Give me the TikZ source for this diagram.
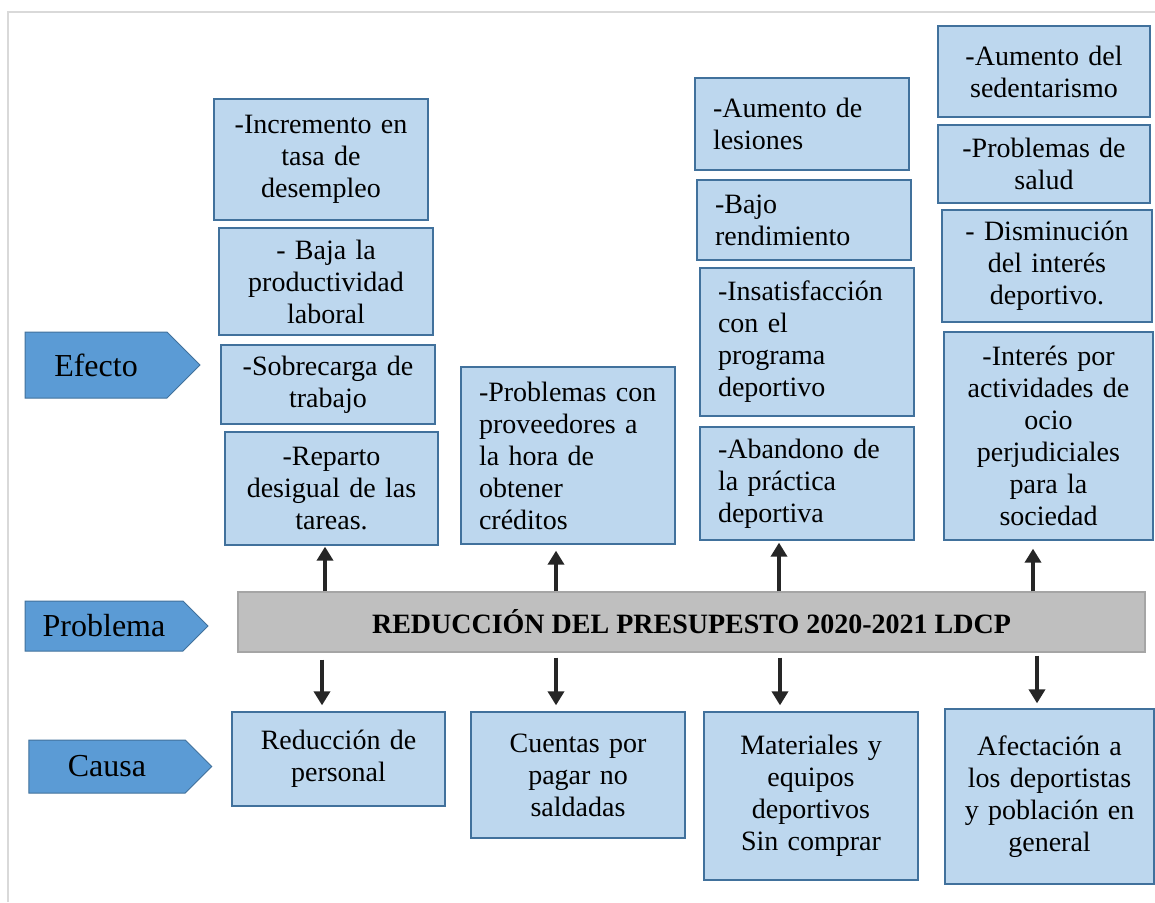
\documentclass[tikz,border=0pt]{standalone}
\usepackage{fontspec}
\setmainfont{Liberation Serif}
\usetikzlibrary{arrows.meta,shapes.symbols}
\definecolor{celeste}{HTML}{BDD7EE}
\definecolor{bordeazul}{HTML}{41719C}
\definecolor{azul}{HTML}{5B9BD5}
\definecolor{gris}{HTML}{BFBFBF}
\definecolor{grisborde}{HTML}{A5A5A5}
\definecolor{marco}{HTML}{D9D9D9}
\definecolor{oscuro}{HTML}{262626}
\tikzset{
  caja/.style={draw=bordeazul, fill=celeste, line width=1.3pt, inner xsep=18pt, inner ysep=0pt,
    text width=178pt, align=center, font=\fontsize{28}{32}\selectfont},
  cajaizq/.style={caja, align=left},
  etiqueta/.style={signal, signal to=east, signal pointer angle=90, draw=bordeazul, fill=azul,
    line width=1pt, inner sep=0pt, font=\fontsize{32}{38}\selectfont},
  flecha/.style={-{Triangle[length=14pt,width=16pt]}, line width=4.5pt, draw=oscuro},
}
\begin{document}
\begin{tikzpicture}[x=1pt, y=-1pt]
\useasboundingbox (0,0) rectangle (1155,902);
\draw[marco, line width=1.5pt] (8,902) -- (8,12) -- (1155,12);
\node[etiqueta, minimum width=175pt, minimum height=66pt] (L_E) at (96,365) {Efecto};
\node[etiqueta, minimum width=183pt, minimum height=50pt] (L_P) at (104,626) {Problema};
\node[etiqueta, minimum width=183pt, minimum height=53pt] (L_C) at (107,766.5) {Causa};
\node[caja, minimum height=121pt] (E_1_1) at (321,159.5) {-Incremento en\\tasa de\\desempleo};
\node[caja, minimum height=107pt] (E_1_2) at (326,281.5) {- Baja la\\productividad\\laboral};
\node[caja, minimum height=79pt] (E_1_3) at (328,384.5) {-Sobrecarga de\\trabajo};
\node[caja, text width=177pt, minimum height=113pt] (E_1_4) at (331.5,488.5) {-Reparto\\desigual de las\\tareas.};
\node[cajaizq, minimum height=177pt] (E_2_1) at (568,455.5) {-Problemas con\\proveedores a\\la hora de\\obtener\\créditos};
\node[cajaizq, minimum height=92pt] (E_3_1) at (802,124) {-Aumento de\\lesiones};
\node[cajaizq, minimum height=80pt] (E_3_2) at (804,220) {-Bajo\\rendimiento};
\node[cajaizq, minimum height=148pt] (E_3_3) at (807,342) {-Insatisfacción\\con el\\programa\\deportivo};
\node[cajaizq, minimum height=113pt] (E_3_4) at (807,483.5) {-Abandono de\\la práctica\\deportiva};
\node[caja, text width=176pt, minimum height=91pt] (E_4_1) at (1044,71.5) {-Aumento del\\sedentarismo};
\node[caja, text width=176pt, minimum height=78pt] (E_4_2) at (1044,164) {-Problemas de\\salud};
\node[caja, text width=174pt, minimum height=112pt] (E_4_3) at (1047,266) {- Disminución\\del interés\\deportivo.};
\node[caja, text width=173pt, minimum height=208pt] (E_4_4) at (1048.5,436) {-Interés por\\actividades de\\ocio\\perjudiciales\\para la\\sociedad};
\node[draw=grisborde, fill=gris, line width=1.3pt, minimum width=907pt, minimum height=60pt,
  font=\bfseries\fontsize{28}{32}\selectfont] (P) at (691.5,622) {REDUCCIÓN DEL PRESUPESTO 2020-2021 LDCP};
\node[caja, text width=177pt, minimum height=94pt] (C_1) at (338.5,759) {Reducción de\\personal};
\node[caja, minimum height=126pt] (C_2) at (578,775) {Cuentas por\\pagar no\\saldadas};
\node[caja, minimum height=168pt] (C_3) at (811,796) {Materiales y\\equipos\\deportivos\\Sin comprar};
\node[caja, text width=173pt, minimum height=175pt] (C_4) at (1049.5,796.5) {Afectación a\\los deportistas\\y población en\\general};
\coordinate (A_1) at (325,0);
\coordinate (A_2) at (556,0);
\coordinate (A_3) at (779,0);
\coordinate (A_4) at (1033,0);
\coordinate (B_1) at (322,0);
\coordinate (B_2) at (556,0);
\coordinate (B_3) at (780,0);
\coordinate (B_4) at (1037,0);
\draw[flecha, shorten >=1pt] (P.north -| A_1) -- (E_1_4.south -| A_1);
\draw[flecha, shorten >=6pt] (P.north -| A_2) -- (E_2_1.south -| A_2);
\draw[flecha, shorten >=2pt] (P.north -| A_3) -- (E_3_4.south -| A_3);
\draw[flecha, shorten >=8pt] (P.north -| A_4) -- (E_4_4.south -| A_4);
\draw[flecha, shorten <=7pt, shorten >=6pt] (P.south -| B_1) -- (C_1.north -| B_1);
\draw[flecha, shorten <=5pt, shorten >=6pt] (P.south -| B_2) -- (C_2.north -| B_2);
\draw[flecha, shorten <=5pt, shorten >=6pt] (P.south -| B_3) -- (C_3.north -| B_3);
\draw[flecha, shorten <=3pt, shorten >=5pt] (P.south -| B_4) -- (C_4.north -| B_4);
\end{tikzpicture}
\end{document}
